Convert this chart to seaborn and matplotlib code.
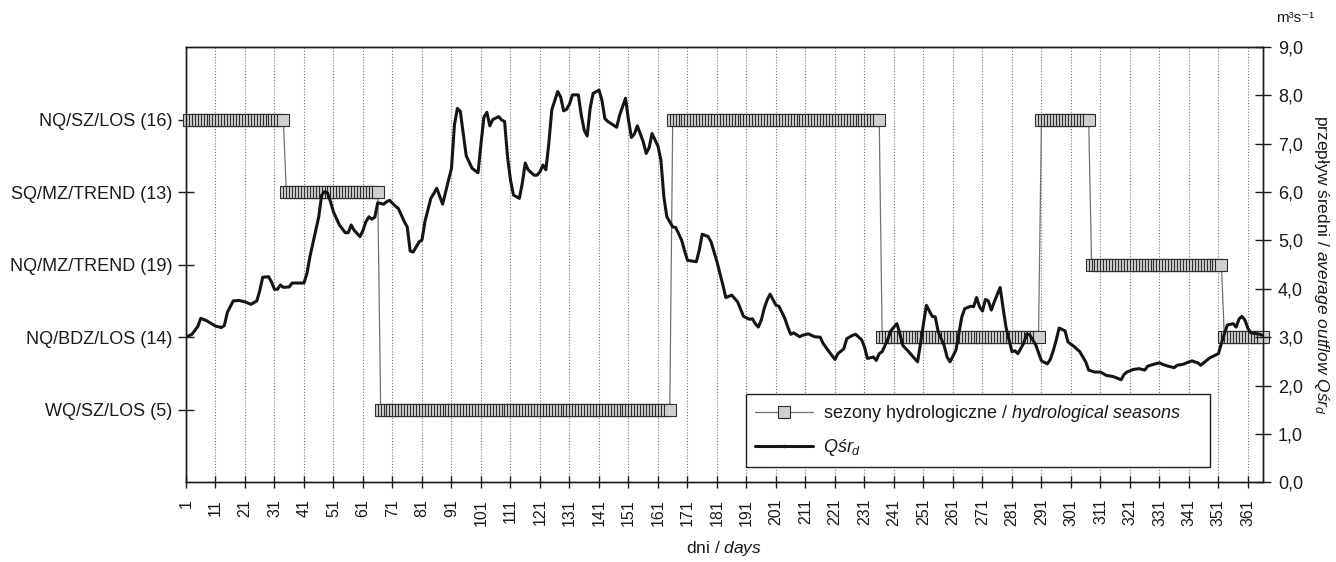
import numpy as np
import pandas as pd
import matplotlib
matplotlib.use("Agg")
import matplotlib.pyplot as plt
import seaborn as sns
from matplotlib.lines import Line2D

# ---------------- data ----------------
q_days = [1, 3, 5, 6, 8, 11, 13, 14, 15, 17, 19, 21, 23, 25, 26, 27, 29, 30, 31, 32,
          33, 34, 36, 37, 41, 42, 43, 44, 46, 47, 48, 49, 50, 51, 53, 55, 56, 57, 58, 60,
          61, 62, 63, 64, 65, 66, 68, 69, 70, 72, 73, 75, 76, 77, 78, 80, 81, 82, 84, 85,
          86, 88, 90, 91, 92, 93, 94, 95, 96, 98, 100, 101, 102, 103, 104, 105, 107, 108, 109, 110,
          111, 112, 114, 115, 116, 117, 119, 120, 121, 122, 123, 124, 125, 127, 128, 129, 130, 131, 132, 134,
          135, 136, 137, 138, 139, 141, 142, 143, 144, 145, 147, 148, 150, 151, 152, 153, 154, 156, 157, 158,
          159, 161, 162, 163, 164, 166, 167, 169, 170, 171, 174, 175, 176, 178, 179, 181, 183, 184, 186, 188,
          190, 192, 193, 194, 195, 196, 197, 198, 199, 201, 202, 204, 205, 206, 207, 209, 210, 212, 214, 216,
          217, 219, 221, 222, 224, 225, 227, 228, 230, 231, 232, 234, 235, 236, 237, 239, 240, 242, 243, 244,
          246, 248, 249, 250, 251, 252, 253, 254, 255, 256, 258, 259, 260, 262, 263, 264, 265, 267, 268, 269,
          270, 271, 272, 273, 274, 275, 277, 278, 279, 280, 281, 282, 283, 285, 286, 287, 289, 290, 291, 293,
          294, 295, 296, 297, 299, 300, 302, 304, 306, 307, 309, 311, 313, 315, 316, 318, 319, 320, 322, 324,
          326, 327, 329, 331, 332, 334, 336, 337, 339, 341, 342, 344, 345, 347, 348, 349, 351, 352, 353, 354,
          356, 357, 358, 359, 360, 361, 362, 364, 365, 366]
q_vals = [3.00, 3.06, 3.22, 3.39, 3.34, 3.23, 3.20, 3.24, 3.51, 3.75, 3.76, 3.73, 3.68, 3.75, 3.96, 4.24, 4.25, 4.14, 3.99, 3.99,
          4.08, 4.03, 4.04, 4.12, 4.12, 4.32, 4.66, 4.94, 5.49, 5.94, 6.01, 5.98, 5.80, 5.59, 5.32, 5.16, 5.16, 5.32, 5.21, 5.08,
          5.21, 5.39, 5.49, 5.44, 5.48, 5.78, 5.75, 5.80, 5.83, 5.71, 5.66, 5.39, 5.28, 4.78, 4.76, 4.97, 5.01, 5.39, 5.87, 5.97,
          6.08, 5.75, 6.25, 6.49, 7.39, 7.73, 7.67, 7.20, 6.75, 6.49, 6.40, 7.00, 7.55, 7.65, 7.37, 7.50, 7.56, 7.49, 7.46, 6.73,
          6.25, 5.94, 5.87, 6.18, 6.60, 6.46, 6.35, 6.35, 6.42, 6.56, 6.46, 7.01, 7.70, 8.08, 7.97, 7.68, 7.71, 7.82, 8.01, 8.01,
          7.59, 7.28, 7.16, 7.73, 8.04, 8.11, 7.90, 7.52, 7.46, 7.42, 7.34, 7.59, 7.94, 7.49, 7.13, 7.20, 7.37, 7.04, 6.80, 6.92,
          7.21, 6.95, 6.66, 5.90, 5.49, 5.28, 5.27, 5.01, 4.79, 4.59, 4.56, 4.80, 5.13, 5.08, 4.97, 4.56, 4.08, 3.82, 3.87, 3.73,
          3.43, 3.37, 3.38, 3.28, 3.21, 3.35, 3.59, 3.77, 3.89, 3.66, 3.64, 3.39, 3.21, 3.06, 3.09, 3.01, 3.04, 3.07, 3.01, 3.00,
          2.87, 2.70, 2.54, 2.66, 2.76, 2.97, 3.04, 3.06, 2.95, 2.80, 2.56, 2.59, 2.52, 2.66, 2.70, 2.97, 3.14, 3.28, 3.07, 2.83,
          2.70, 2.56, 2.49, 2.87, 3.28, 3.66, 3.54, 3.43, 3.42, 3.11, 2.83, 2.59, 2.49, 2.73, 3.07, 3.42, 3.59, 3.64, 3.63, 3.82,
          3.63, 3.54, 3.78, 3.75, 3.56, 3.73, 4.03, 3.60, 3.20, 2.95, 2.70, 2.72, 2.66, 2.88, 3.07, 3.05, 2.85, 2.68, 2.51, 2.45,
          2.54, 2.72, 2.94, 3.19, 3.13, 2.90, 2.81, 2.70, 2.49, 2.32, 2.28, 2.28, 2.21, 2.19, 2.17, 2.12, 2.23, 2.28, 2.33, 2.35,
          2.32, 2.40, 2.44, 2.47, 2.44, 2.40, 2.37, 2.42, 2.44, 2.49, 2.51, 2.47, 2.42, 2.52, 2.57, 2.60, 2.66, 2.87, 3.07, 3.25,
          3.28, 3.21, 3.38, 3.43, 3.35, 3.18, 3.09, 3.07, 3.06, 3.04]

# hydrological season categories (bottom to top on the left axis)
season_names = ["WQ/SZ/LOS (5)", "NQ/BDZ/LOS (14)", "NQ/MZ/TREND (19)",
                "SQ/MZ/TREND (13)", "NQ/SZ/LOS (16)"]
# sequence of seasons over the year
season_seq = ["NQ/SZ/LOS (16)", "SQ/MZ/TREND (13)", "WQ/SZ/LOS (5)", "NQ/SZ/LOS (16)",
              "NQ/BDZ/LOS (14)", "NQ/SZ/LOS (16)", "NQ/MZ/TREND (19)", "NQ/BDZ/LOS (14)"]
season_first_day = [2, 35, 67, 166, 237, 291, 308, 353]
season_last_day = [34, 66, 165, 236, 290, 307, 352, 366]

x_tick_days = [1, 11, 21, 31, 41, 51, 61, 71, 81, 91, 101, 111, 121, 131, 141, 151, 161,
               171, 181, 191, 201, 211, 221, 231, 241, 251, 261, 271, 281, 291, 301, 311,
               321, 331, 341, 351, 361]
q_ticks = [0, 1, 2, 3, 4, 5, 6, 7, 8, 9]

# daily season codes
s_days, s_codes = [], []
for name, a, b in zip(season_seq, season_first_day, season_last_day):
    for d in range(a, b + 1):
        s_days.append(d)
        s_codes.append(season_names.index(name) + 1)
season_df = pd.DataFrame({"day": s_days, "code": s_codes})
q_df = pd.DataFrame({"day": q_days, "q": q_vals})

# ---------------- style ----------------
sns.set_style("white")
plt.rcParams["font.family"] = ["Liberation Sans", "DejaVu Sans"]
plt.rcParams["mathtext.fontset"] = "custom"
plt.rcParams["mathtext.rm"] = "Liberation Sans"
plt.rcParams["mathtext.it"] = "Liberation Sans:italic"
plt.rcParams["text.color"] = "#1a1a1a"

W, H = 1336, 562
fig = plt.figure(figsize=(W / 100, H / 100), dpi=100)
left_px, right_px, top_px, bot_px = 186, 1262.7, 47, 482.3
ax = fig.add_axes([left_px / W, 1 - bot_px / H, (right_px - left_px) / W, (bot_px - top_px) / H])
ax2 = ax.twinx()

MS = 9.3
# seasons (left categorical axis)
sns.lineplot(data=season_df, x="day", y="code", ax=ax, color="#707070", lw=0.9,
             marker="s", markersize=MS, markerfacecolor="#cfcfcf",
             markeredgecolor="#2e2e2e", markeredgewidth=0.8, clip_on=False, zorder=3)

# mean daily discharge (right axis)
sns.lineplot(data=q_df, x="day", y="q", ax=ax2, color="#151515", lw=2.2, zorder=4)

ax.set_xlim(1, 366)
ax.set_ylim(0, 6)
ax2.set_ylim(0, 9)

ax.set_xticks(x_tick_days)
ax.set_xticklabels([str(d) for d in x_tick_days])
ax.set_yticks([1, 2, 3, 4, 5])
ax.set_yticklabels(season_names)
ax2.set_yticks(q_ticks)
ax2.set_yticklabels([f"{v:.1f}".replace(".", ",") for v in q_ticks])

ax.set_xlabel("")
ax.set_ylabel("")
ax2.set_xlabel("")
ax2.set_ylabel("")

ax.xaxis.grid(True, linestyle=(0, (1, 1.6)), color="#7a7a7a", lw=0.8)
ax.yaxis.grid(False)
ax2.grid(False)

for a in (ax, ax2):
    for s in a.spines.values():
        s.set_color("#1a1a1a")
        s.set_linewidth(1.0)
        s.set_visible(True)

ax.tick_params(axis="y", direction="inout", length=12, width=1, labelsize=13,
               pad=4, colors="#1a1a1a", left=True)
ax.tick_params(axis="x", direction="inout", length=8, width=1, labelsize=11.5,
               labelrotation=90, pad=8, colors="#1a1a1a", bottom=True)
ax2.tick_params(axis="y", direction="inout", length=12, width=1, labelsize=13,
                pad=5, colors="#1a1a1a", right=True)

# legend
h1 = Line2D([], [], color="#707070", lw=0.9, marker="s", markersize=MS,
            markerfacecolor="#cfcfcf", markeredgecolor="#2e2e2e", markeredgewidth=0.8)
h2 = Line2D([], [], color="#151515", lw=2.2, marker="o", markersize=1.5)
ax_w = right_px - left_px
ax_h = bot_px - top_px
leg = ax2.legend([h1, h2],
                 ["sezony hydrologiczne / $\\mathit{hydrological\\ seasons}$",
                  "$\\mathit{Q\u015br}_{\\mathit{d}}$"],
                 loc="upper left", mode="expand",
                 bbox_to_anchor=((745.7 - left_px) / ax_w, (bot_px - 465) / ax_h,
                                 (1210 - 745.7) / ax_w, (465 - 394.3) / ax_h),
                 frameon=True, fancybox=False, edgecolor="#222222", framealpha=1,
                 fontsize=13, borderpad=0.5, labelspacing=0.72, handlelength=3.2,
                 handletextpad=0.6, borderaxespad=0)
leg.get_frame().set_linewidth(1.0)

# axis titles
fig.text(724 / W, 1 - 549 / H, "dni / $\\mathit{days}$", ha="center", va="center", fontsize=12.5)
fig.text(1322 / W, 1 - 265 / H,
         "przepływ średni / $\\mathit{average\\ outflow\\ Q\u015br}_{\\mathit{d}}$",
         rotation=270, ha="center", va="center", fontsize=12.5)
fig.text(1295 / W, 1 - 18 / H, "m\u00b3s\u207b\u00b9", ha="center", va="center", fontsize=11,
         family=["Liberation Sans", "DejaVu Sans"])

fig.savefig("out.png", dpi=100)
